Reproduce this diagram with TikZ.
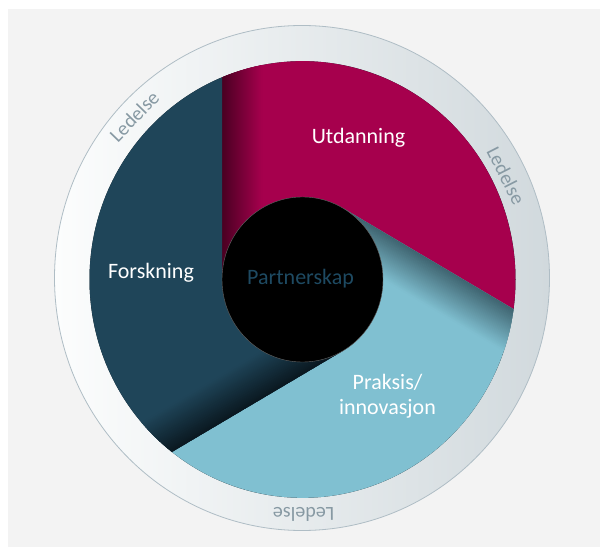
\documentclass[tikz,border=0pt]{standalone}
\usepackage{fontspec}
\setmainfont{Carlito}

\definecolor{bggray}{HTML}{F3F3F3}
\definecolor{ringlight}{HTML}{FCFDFD}
\definecolor{ringdark}{HTML}{D1D9DD}
\definecolor{ringline}{HTML}{AFBDC5}
\definecolor{ledtext}{HTML}{8799A3}
\definecolor{forskblue}{HTML}{1F4559}
\definecolor{forskdark}{HTML}{0A1820}
\definecolor{utdred}{HTML}{A6004D}
\definecolor{utddark}{HTML}{4A0022}
\definecolor{praksblue}{HTML}{80C0D1}
\definecolor{praksdark}{HTML}{3F6470}
\definecolor{partnertext}{HTML}{1E4A62}

\tikzset{
    area label/.style={text=white, font=\fontsize{22}{25}\selectfont, align=center},
    ring label/.style={text=ledtext, font=\fontsize{20}{22}\selectfont},
}

% radii of hub and disc, and the angle from a tangent point to the rim
\newcommand{\hubrad}{80.5}
\newcommand{\discrad}{213}
\pgfmathsetmacro{\sweep}{acos(80.5/213)}

% one blade: #1 = angle of its tangent point on the hub, #2 = colour, #3 = shadow colour
\newcommand{\drawblade}[3]{
    \begin{scope}
        \clip (#1:\hubrad) -- (#1-\sweep:\discrad)
            arc[start angle=#1-\sweep, end angle=#1-\sweep-120, radius=\discrad]
            -- (#1-120:\hubrad)
            arc[start angle=#1-120, end angle=#1, radius=\hubrad] -- cycle;
        \fill[#2] (-260,-260) rectangle (260,260);
        % shadow along the edge of the blade before it
        \begin{scope}[shift={(#1:\hubrad)}, rotate=#1-90]
            \foreach \k in {0,...,39} {
                \pgfmathtruncatemacro{\mix}{100-2.5*\k}
                \fill[#3!\mix!#2] (0,-\k-1.5) rectangle (260,-\k);
            }
        \end{scope}
    \end{scope}
}

\begin{document}
\begin{tikzpicture}[x=1pt, y=1pt]
    \useasboundingbox (0,0) rectangle (600,547);
    % Page and backdrop
    \fill[white] (0,0) rectangle (600,547);
    \fill[bggray] (8,0) rectangle (600,538);

    % Outer ring
    \shadedraw[left color=ringlight, right color=ringdark, draw=ringline, line width=0.8pt]
        (302,269) ellipse [x radius=247.5, y radius=252.5];

    % Blades and hub
    \begin{scope}[shift={(302.5,267.5)}, yscale=1.025]
        \fill[forskdark] (0,0) circle[radius=\discrad];
        \drawblade{180}{utdred}{utddark}
        \drawblade{60}{praksblue}{praksdark}
        \drawblade{300}{forskblue}{forskdark}
        % Hub
        \fill[black] (0,0) circle[radius=\hubrad];
        \draw[black!60, line width=0.4pt] (0,0) circle[radius=\hubrad];
    \end{scope}

    % Blade labels
    \node[area label] (utdanning) at (358.5,409) {Utdanning};
    \node[area label] (forskning) at (151,274) {Forskning};
    \node[area label] (praksis) at (387.5,151) {Praksis/\\innovasjon};
    \node[area label, text=partnertext] (partnerskap) at (300.5,268) {Partnerskap};

    % Ring labels, tops facing outwards
    \begin{scope}[shift={(302,267.5)}]
        \node[ring label, rotate=45.8] (ledelse-nw) at (135.8:234) {Ledelse};
        \node[ring label, rotate=-63] (ledelse-e) at (27:229) {Ledelse};
        \node[ring label, rotate=180.4] (ledelse-s) at (-89.6:235) {Ledelse};
    \end{scope}
\end{tikzpicture}
\end{document}
